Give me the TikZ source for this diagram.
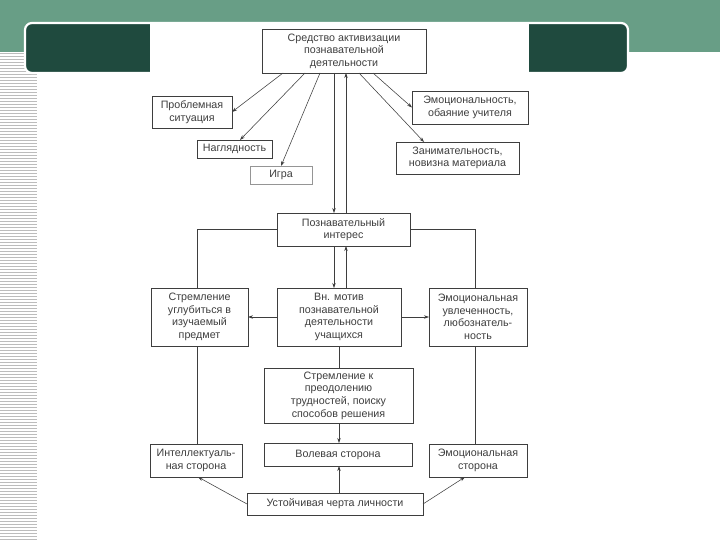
\documentclass[tikz,border=0pt]{standalone}
\usepackage{fontspec}
\setmainfont{Liberation Sans}
\usetikzlibrary{arrows.meta,calc}
\definecolor{bandgreen}{RGB}{104,158,134}
\definecolor{darkgreen}{RGB}{31,74,62}
\definecolor{ink}{RGB}{62,62,62}
\definecolor{stripe}{RGB}{188,188,188}
\newcommand{\bx}[6][]{%
  \node[box,#1,minimum width={(#4-#2)*1pt},minimum height={(#5-#3)*1pt}] (#6)
    at ({(#2+#4)/2},{(#3+#5)/2})}
\begin{document}
\begin{tikzpicture}[x=1pt,y=-1pt,
  box/.style={draw=ink, line width=0.6pt, fill=white, text=ink,
    font=\fontsize{10.7}{12.6}\selectfont, align=center, inner sep=1pt, outer sep=0pt},
  conn/.style={draw=ink, line width=0.55pt},
  arr/.style={conn, -{Stealth[length=5pt,width=3.4pt]}}]
\useasboundingbox (0,0) rectangle (720,540);
% background
\fill[white] (0,0) rectangle (720,540);
\fill[bandgreen] (0,0) rectangle (720,52);
\foreach \i in {0,...,162} \draw[stripe, line width=1pt] (0,{53.5+3*\i}) -- (37,{53.5+3*\i});
\draw[white, line width=2.2pt, fill=darkgreen, rounded corners=7pt] (25,23) rectangle (628,73);
\fill[white] (150,24) rectangle (529,540);
% named coordinates for vertical connectors
\coordinate (xa) at (334,0);
\coordinate (xb) at (346,0);
\coordinate (xc) at (197,0);
\coordinate (xd) at (339,0);
\coordinate (xe) at (475,0);
% nodes
\bx{262}{29}{426}{73}{top} {Средство активизации\\познавательной\\деятельности};
\bx{152}{96}{232}{128}{prob} {Проблемная\\ситуация};
\bx{197}{140}{272}{158}{nagl} {Наглядность};
\bx[draw=ink!55]{250}{166}{312}{184}{igra} {Игра};
\bx{412}{91}{528}{124}{emoa} {Эмоциональность,\\обаяние учителя};
\bx{396}{142}{519}{174}{zan} {Занимательность,\\новизна материала};
\bx{277}{213}{410}{246}{pozn} {Познавательный\\интерес};
\bx{151}{288}{248}{346}{strem} {Стремление\\углубиться в\\изучаемый\\предмет};
\bx{277}{288}{401}{346}{vn} {Вн. мотив\\познавательной\\деятельности\\учащихся};
\bx{429}{288}{527}{346}{emob} {Эмоциональная\\увлеченность,\\любознатель-\\ность};
\bx{264}{368}{413}{423}{preod} {Стремление к\\преодолению\\трудностей, поиску\\способов решения};
\bx{150}{444}{242}{477}{intel} {Интеллектуаль-\\ная сторона};
\bx{264}{443}{412}{466}{vol} {Волевая сторона};
\bx{429}{444}{527}{477}{emoc} {Эмоциональная\\сторона};
\bx{247}{493}{423}{515}{ust} {Устойчивая черта личности};
% connectors from top box
\draw[arr] ($(top.south west)+(21,0)$) -- (prob.east);
\draw[arr] ($(top.south west)+(43,0)$) -- ($(nagl.north west)+(43,0)$);
\draw[arr] ($(top.south west)+(58,0)$) -- (igra.north);
\draw[arr] ($(top.south west)+(111,0)$) -- (emoa.west);
\draw[arr] ($(top.south west)+(97,0)$) -- ($(zan.north west)+(28,0)$);
\draw[arr] (top.south -| xa) -- (pozn.north -| xa);
\draw[arr] (pozn.north -| xb) -- (top.south -| xb);
% from interest
\draw[conn] (pozn.west) -| (strem.north -| xc);
\draw[conn] (pozn.east) -| (emob.north -| xe);
\draw[arr] (pozn.south -| xa) -- (vn.north -| xa);
\draw[arr] (vn.north -| xb) -- (pozn.south -| xb);
\draw[arr] (vn.west) -- (strem.east);
\draw[arr] (vn.east) -- (emob.west);
% downwards
\draw[conn] (strem.south -| xc) -- (intel.north -| xc);
\draw[conn] (vn.south -| xd) -- (preod.north -| xd);
\draw[conn] (emob.south -| xe) -- (emoc.north -| xe);
\draw[arr] (preod.south -| xd) -- (vol.north -| xd);
\draw[arr] (ust.north -| xd) -- (vol.south -| xd);
\draw[arr] (ust.west) -- ($(intel.south west)+(48,0)$);
\draw[arr] (ust.east) -- ($(emoc.south west)+(36,0)$);
\end{tikzpicture}
\end{document}
